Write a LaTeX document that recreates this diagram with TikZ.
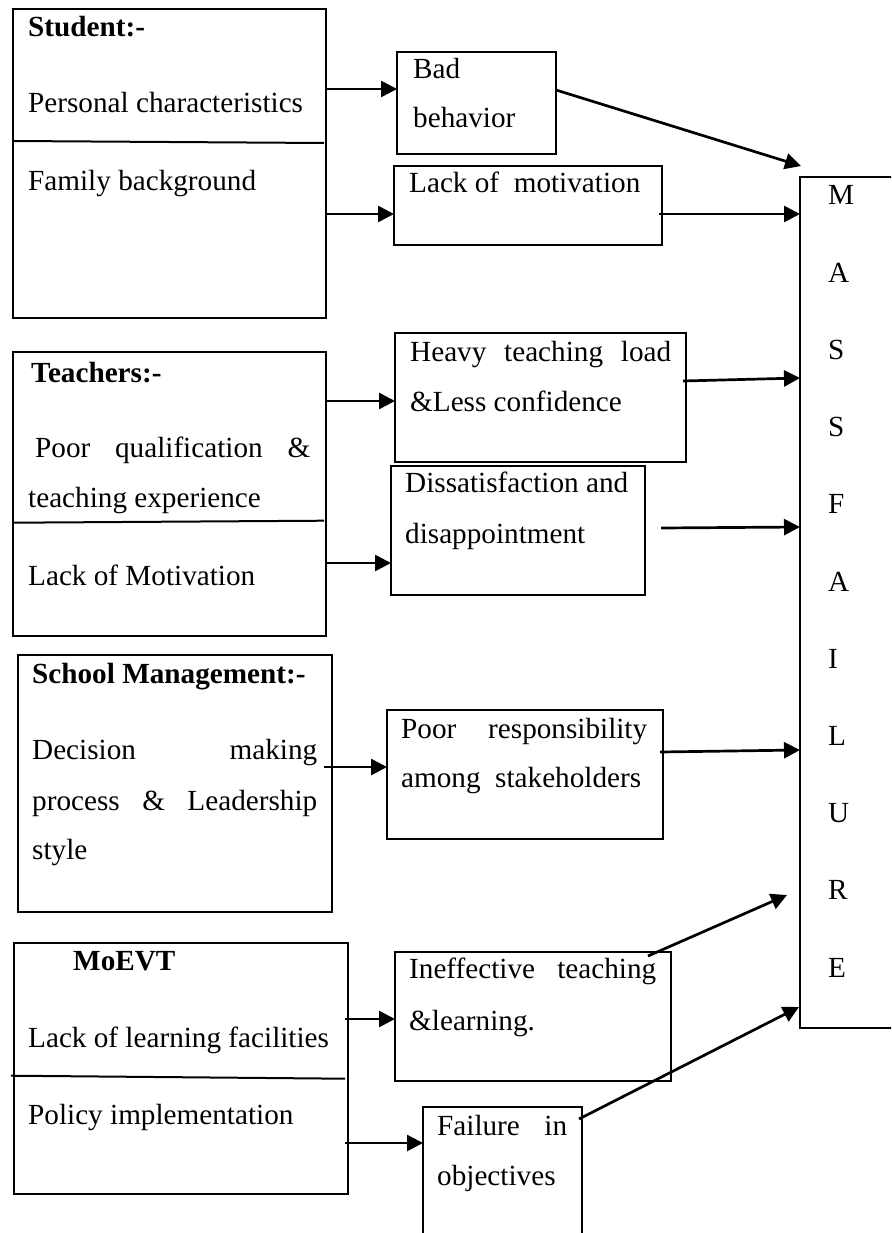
\documentclass[tikz,border=0pt]{standalone}
\usepackage{fontspec}
\setmainfont{Liberation Serif}
\usetikzlibrary{arrows.meta}
\begin{document}
\begin{tikzpicture}[x=1pt,y=-1pt,
  box/.style={draw,line width=2.8pt,rectangle,inner sep=0pt,outer sep=0pt,anchor=north west},
  txt/.style={anchor=base west,inner sep=0pt,font=\fontsize{29.2}{35}\selectfont},
  btxt/.style={anchor=base west,inner sep=0pt,font=\fontsize{29.2}{35}\selectfont\bfseries},
  arr/.style={line width=2.7pt,-{Triangle[length=16pt,width=16pt]}},
  divider/.style={line width=2pt}]
\useasboundingbox (0,0) rectangle (891,1233);
\fill[white] (0,0) rectangle (891,1233);
\clip (0,0) rectangle (891,1233);

% ---------- boxes ----------
\node[box,minimum width=313pt,minimum height=309pt] (student) at (13,9) {};
\node[box,minimum width=159pt,minimum height=102pt] (bad) at (397,52) {};
\node[box,minimum width=268pt,minimum height=79pt] (lack) at (394,166) {};
\node[box,minimum width=100pt,minimum height=851pt] (mass) at (800,177) {};
\node[box,minimum width=313pt,minimum height=284pt] (teach) at (13,352) {};
\node[box,minimum width=291pt,minimum height=129pt] (heavy) at (395,333) {};
\node[box,minimum width=254pt,minimum height=129pt] (diss) at (391,466) {};
\node[box,minimum width=314pt,minimum height=257pt] (school) at (18,655) {};
\node[box,minimum width=276pt,minimum height=129pt] (poor) at (387,710) {};
\node[box,minimum width=334pt,minimum height=251pt] (moevt) at (14,943) {};
\node[box,minimum width=276pt,minimum height=129pt] (ineff) at (395,952) {};
\node[box,minimum width=159pt,minimum height=150pt] (fail) at (423,1107) {};

% ---------- dividers ----------
\draw[divider] ([yshift=-132pt]student.north west) -- ([shift={(-2pt,-134pt)}]student.north east);
\draw[divider] ([yshift=-170.7pt]teach.north west) -- ([shift={(-2pt,-168.7pt)}]teach.north east);
\draw[divider] ([shift={(-3pt,-132.7pt)}]moevt.north west) -- ([shift={(-3pt,-135.7pt)}]moevt.north east);

% ---------- texts ----------
\node[btxt] (t1) at (28,37) {Student:-};
\node[txt] (t2) at (28,113) {Personal characteristics};
\node[txt] (t3) at (28,191) {Family background};

\node[txt] (t4) at (413,79) {Bad};
\node[txt] (t5) at (413,128) {behavior};
\node[txt] (t6) at (409,193) {Lack of\ \ motivation};

\node[btxt] (t7) at (31,382) {Teachers:-};
\node[txt] (t8) at (35,457) {\makebox[275pt][s]{Poor\hfill qualification\hfill\&}};
\node[txt] (t9) at (28,507) {teaching experience};
\node[txt] (t10) at (28,585) {Lack of Motivation};

\node[txt] (t11) at (410,361) {\makebox[261pt][s]{Heavy\hfill teaching\hfill load}};
\node[txt] (t12) at (410,411) {\&Less confidence};
\node[txt] (t13) at (405,492) {Dissatisfaction and};
\node[txt] (t14) at (405,543) {disappointment};

\node[btxt] (t15) at (32,683) {School Management:-};
\node[txt] (t16) at (32,759) {\makebox[285pt][s]{Decision\hfill making}};
\node[txt] (t17) at (32,810) {\makebox[285pt][s]{process\hfill\&\hfill Leadership}};
\node[txt] (t18) at (32,859) {style};

\node[txt] (t19) at (401,738) {\makebox[246pt][s]{Poor\hfill responsibility}};
\node[txt] (t20) at (401,787) {\makebox[240pt][s]{among\hfill stakeholders}};

\node[btxt] (t21) at (73,970) {MoEVT};
\node[txt] (t22) at (28,1047) {Lack of learning facilities};
\node[txt] (t23) at (28,1124) {Policy implementation};

\node[txt] (t24) at (409,978) {\makebox[247pt][s]{Ineffective\hfill teaching}};
\node[txt] (t25) at (409,1030) {\&learning.};
\node[txt] (t26) at (437,1135) {\makebox[130pt][s]{Failure\hfill in}};
\node[txt] (t27) at (437,1185) {objectives};

\foreach \l [count=\i from 0] in {M,A,S,S,F,A,I,L,U,R,E}
  \node[txt] (m\i) at (828,{205+77.2*\i}) {\l};

% ---------- free ends ----------
\coordinate (eBad) at ([shift={(1pt,11pt)}]mass.north west);
\coordinate (sDiss) at ([shift={(16pt,-62pt)}]diss.north east);
\coordinate (eIneff) at ([shift={(-13pt,-718pt)}]mass.north west);

% ---------- arrows ----------
\draw[arr] ([yshift=-80pt]student.north east) -- ([yshift=-37pt]bad.north west);
\draw[arr] ([yshift=-205pt]student.north east) -- ([yshift=-48pt]lack.north west);
\draw[arr] ([yshift=-38pt]bad.north east) -- (eBad);
\draw[arr] ([shift={(-3pt,-48pt)}]lack.north east) -- ([yshift=-37pt]mass.north west);

\draw[arr] ([yshift=-49pt]teach.north east) -- ([yshift=-68pt]heavy.north west);
\draw[arr] ([yshift=-211pt]teach.north east) -- ([yshift=-97pt]diss.north west);
\draw[arr] ([shift={(-3pt,-48pt)}]heavy.north east) -- ([yshift=-201pt]mass.north west);
\draw[arr] (sDiss) -- ([yshift=-350pt]mass.north west);

\draw[arr] ([shift={(-8pt,-112pt)}]school.north east) -- ([yshift=-57pt]poor.north west);
\draw[arr] ([shift={(-3pt,-42pt)}]poor.north east) -- ([yshift=-573pt]mass.north west);

\draw[arr] ([shift={(-3pt,-76pt)}]moevt.north east) -- ([yshift=-67pt]ineff.north west);
\draw[arr] ([shift={(-3pt,-200pt)}]moevt.north east) -- ([yshift=-36pt]fail.north west);
\draw[arr] ([shift={(-23pt,-4pt)}]ineff.north east) -- (eIneff);
\draw[arr] ([shift={(-3pt,-12pt)}]fail.north east) -- ([shift={(-1pt,-830pt)}]mass.north west);
\end{tikzpicture}
\end{document}
